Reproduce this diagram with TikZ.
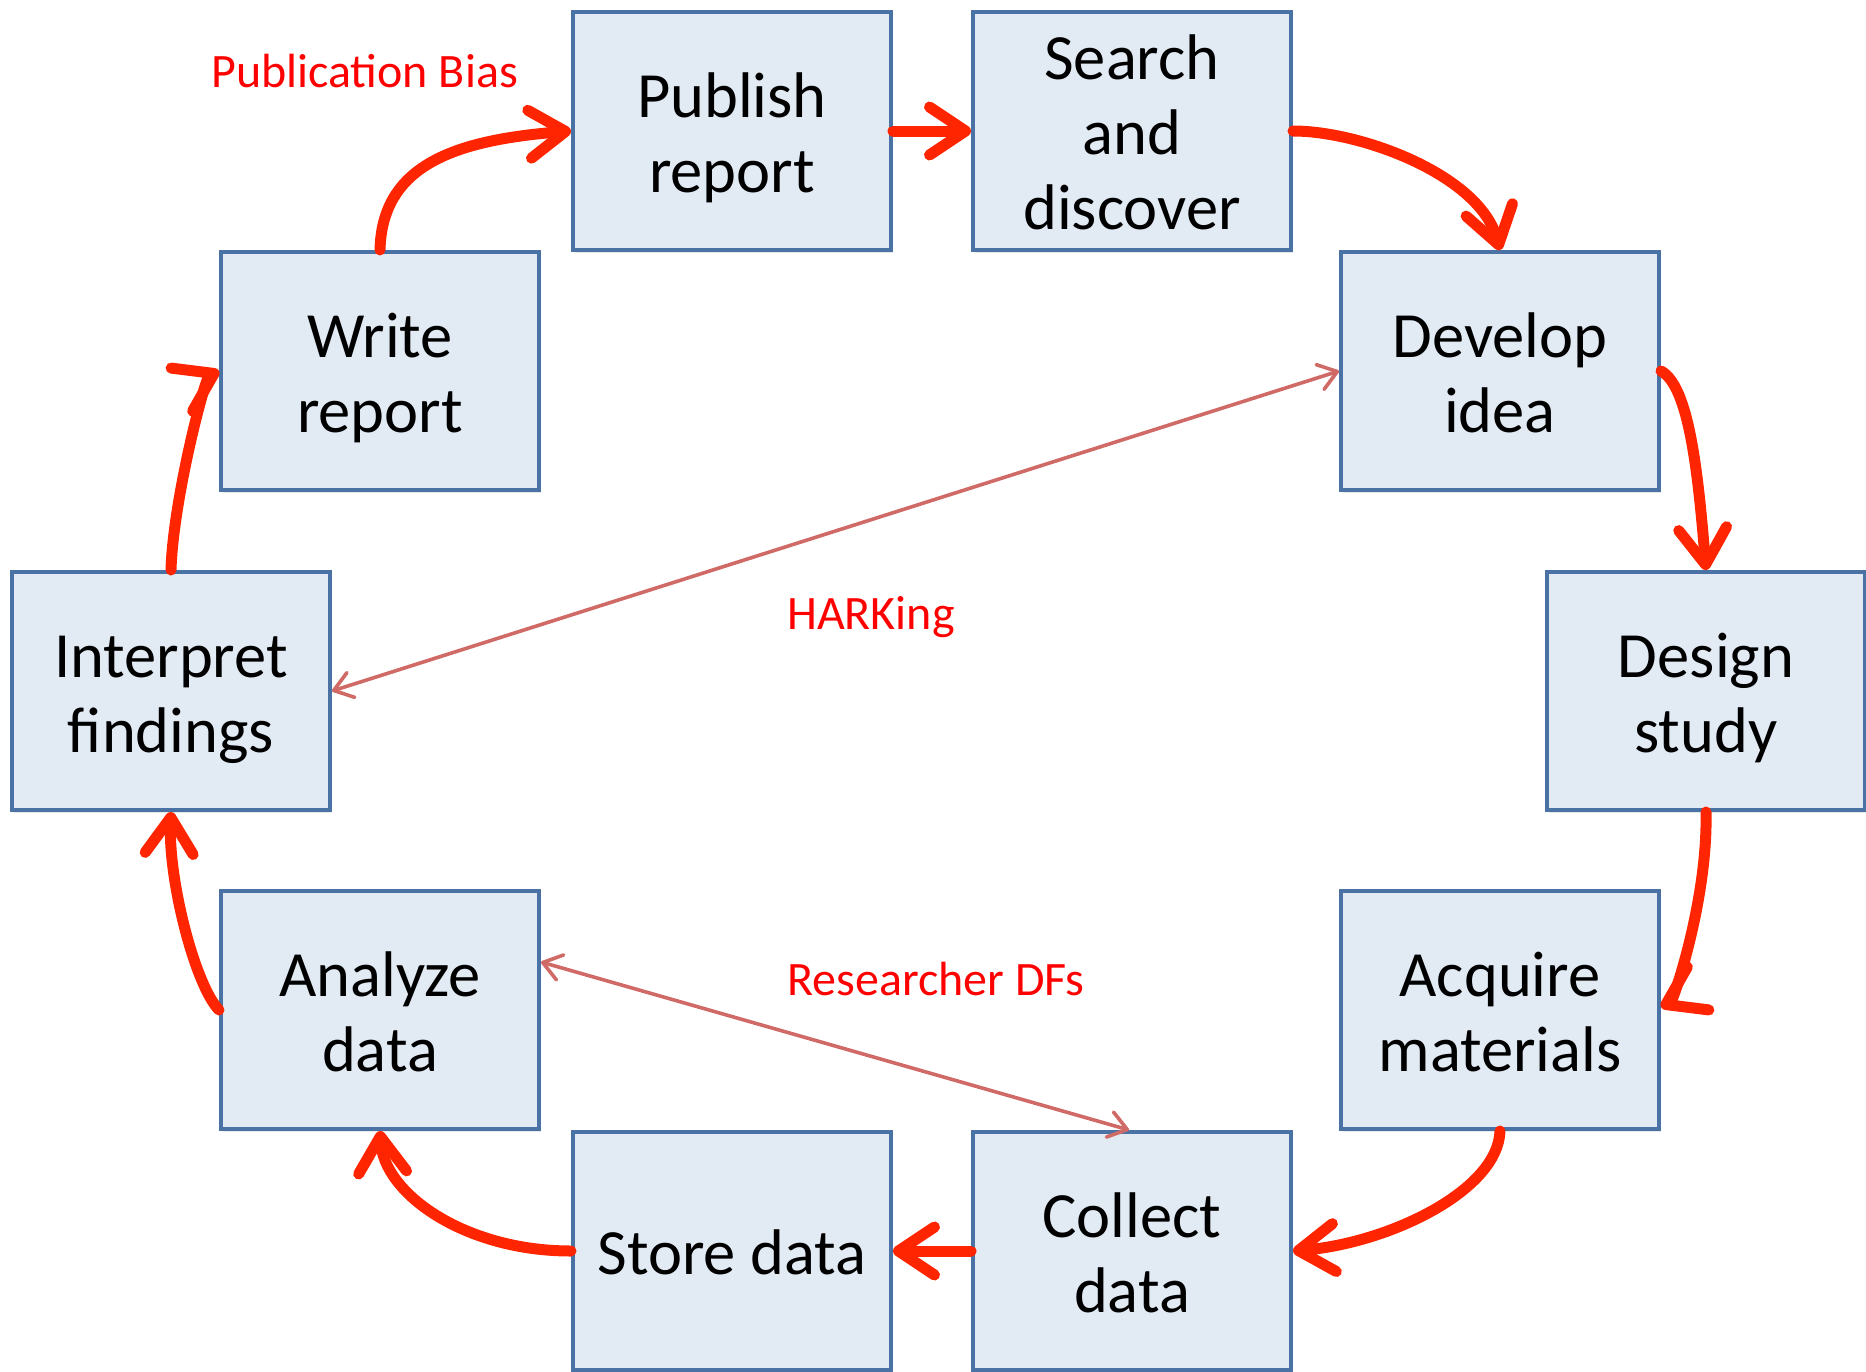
\documentclass[tikz,border=0pt]{standalone}
\usepackage{fontspec}
\setmainfont{Carlito}
\usetikzlibrary{arrows.meta,shadows}
\definecolor{boxfill}{HTML}{E2EAF4}
\definecolor{boxline}{HTML}{4A72A4}
\definecolor{flowred}{HTML}{FF2500}
\definecolor{labred}{HTML}{FF0000}
\definecolor{thinred}{HTML}{D06A66}
\newcommand\Hs{\rule{0pt}{62pt}}
\newcommand\Ds{\rule[-15pt]{0pt}{15pt}}
\begin{document}
\begin{tikzpicture}[x=1pt,y=-1pt,
  stage/.style={rectangle, draw=boxline, line width=4pt, fill=boxfill,
    minimum width=318pt, minimum height=238pt, align=center, inner sep=0pt,
    font=\fontsize{64.5}{75}\selectfont,
    drop shadow={opacity=0.18, shadow xshift=2pt, shadow yshift=-3pt}},
  flow/.style={draw=flowred, line width=11pt, line cap=round,
    -{Straight Barb[round,length=36pt,width=48pt]}},
  hint/.style={draw=thinred, line width=3.6pt,
    {Straight Barb[round,length=18pt,width=26pt]}-{Straight Barb[round,length=18pt,width=26pt]}},
  note/.style={text=labred, font=\fontsize{48}{57}\selectfont, inner sep=0pt}]
\useasboundingbox (0,0) rectangle (1866,1371);

% boxes
\node[stage] (publish)   at (732,131)   {\Hs Publish\\report\Ds};
\node[stage] (search)    at (1132,131)  {\Hs Search\\and\\discover\Ds};
\node[stage] (write)     at (380,371)   {\Hs Write\\report\Ds};
\node[stage] (develop)   at (1500,371)  {\Hs Develop\\idea\Ds};
\node[stage] (interpret) at (171,691)   {\Hs Interpret\\findings\Ds};
\node[stage] (design)    at (1706,691)  {\Hs Design\\study\Ds};
\node[stage] (analyze)   at (380,1010)  {\Hs Analyze\\data\Ds};
\node[stage] (acquire)   at (1500,1010) {\Hs Acquire\\materials\Ds};
\node[stage] (store)     at (732,1251)  {\Hs Store data\Ds};
\node[stage] (collect)   at (1132,1251) {\Hs Collect\\data\Ds};

% thick cycle arrows
\draw[flow] (write.north) .. controls (382,165) and (455,140) .. (publish.west);
\draw[flow] (publish.east) -- (search.west);
\draw[flow] (search.east) .. controls (1361,131) and (1480,175) .. (develop.north);
\draw[flow] (develop.east) .. controls (1689,386) and (1698,472) .. (design.north);
\draw[flow] (design.south) .. controls (1708,900) and (1673,1001) .. ([yshift=3pt]acquire.east);
\draw[flow] (acquire.south) .. controls (1498,1190) and (1390,1243) .. (collect.east);
\draw[flow] (collect.west) -- (store.east);
\draw[flow] (store.west) .. controls (465,1251) and (384,1194) .. (analyze.south);
\draw[flow] (analyze.west) .. controls (195,985) and (168,880) .. (interpret.south);
\draw[flow] (interpret.north) .. controls (173,500) and (205,378) .. (write.west);

% thin double arrows
\draw[hint] (interpret.east) -- (develop.west);
\draw[hint] ([yshift=48pt]analyze.east) -- ([xshift=-3pt]collect.north);

% labels
\node[note, anchor=base west] (pubbias) at (211,87) {Publication Bias};
\node[note, anchor=base west] (harking) at (787,629) {HARKing};
\node[note, anchor=base west] (rdf) at (787,995) {Researcher DFs};
\end{tikzpicture}
\end{document}
